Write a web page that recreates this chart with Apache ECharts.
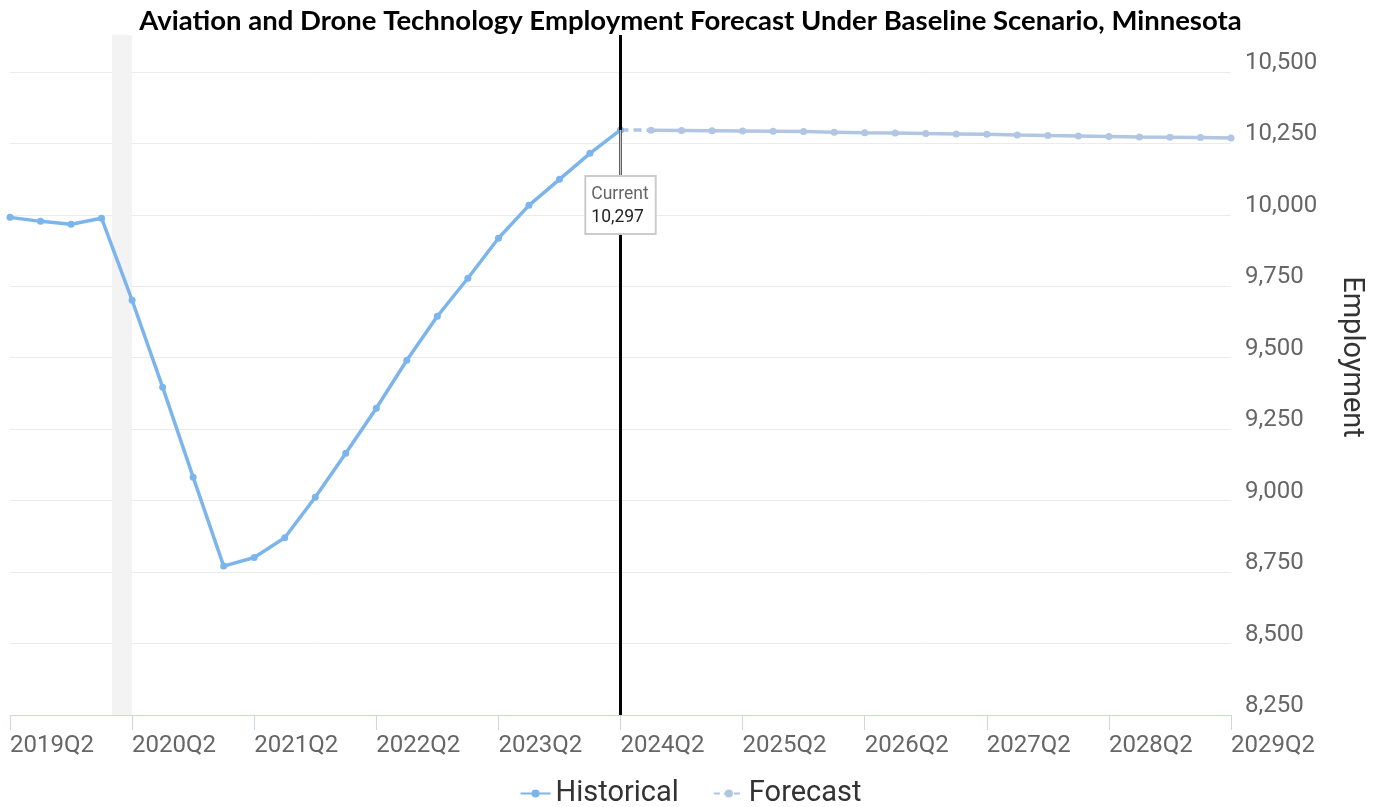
<!DOCTYPE html>
<html lang="en">
<head>
    <meta charset="UTF-8">
    <title>Aviation and Drone Technology Employment Forecast</title>
    <script src="https://cdn.jsdelivr.net/npm/echarts@6.0.0/dist/echarts.min.js"></script>
    <style>
        * { margin: 0; padding: 0; box-sizing: border-box; }
        body { background: #fff; }
        #chart { width: 1381px; height: 807px; }
    </style>
</head>
<body>
    <div id="chart"></div>

    <script>
        // quarter labels, index 0 = 2019Q2
        const quarters = [
            '2019Q2', '2019Q3', '2019Q4', '2020Q1', '2020Q2', '2020Q3', '2020Q4', '2021Q1',
            '2021Q2', '2021Q3', '2021Q4', '2022Q1', '2022Q2', '2022Q3', '2022Q4', '2023Q1',
            '2023Q2', '2023Q3', '2023Q4', '2024Q1', '2024Q2', '2024Q3', '2024Q4', '2025Q1',
            '2025Q2', '2025Q3', '2025Q4', '2026Q1', '2026Q2', '2026Q3', '2026Q4', '2027Q1',
            '2027Q2', '2027Q3', '2027Q4', '2028Q1', '2028Q2', '2028Q3', '2028Q4', '2029Q1',
            '2029Q2'
        ];

        // 2019Q2 .. 2024Q2
        const historical = [
            9991, 9977, 9967, 9988, 9701, 9397, 9082, 8771, 8801, 8870,
            9012, 9166, 9323, 9491, 9645, 9778, 9918, 10033, 10124, 10215,
            10297
        ];

        // 2024Q2 .. 2029Q2
        const forecast = [
            10297, 10296, 10295, 10294, 10293, 10292, 10291, 10289, 10287, 10286,
            10284, 10283, 10282, 10279, 10277, 10276, 10274, 10272, 10271, 10270,
            10269
        ];

        const currentIndex = historical.length - 1;
        const forecastStart = currentIndex;
        // recession band (Feb 2020 - Apr 2020) in quarter-index units
        const recessionBand = [3.34, 4];

        const histData = historical.map((v, i) => [i, v]);
        const foreData = forecast.map((v, i) => [forecastStart + i, v]);

        const histColor = '#7cb5ec';
        const foreColor = '#b0c6e2';

        const chart = echarts.init(document.getElementById('chart'));

        const option = {
            animation: false,
            title: {
                text: 'Aviation and Drone Technology Employment Forecast Under Baseline Scenario, Minnesota',
                left: 'center',
                top: 2,
                textStyle: {
                    fontFamily: 'Lato',
                    fontWeight: 'bold',
                    fontSize: 27.5,
                    color: '#000'
                }
            },
            grid: {
                left: 10,
                right: 150,
                top: 35,
                bottom: 92
            },
            legend: {
                top: 774,
                left: 'center',
                itemWidth: 30,
                itemHeight: 10,
                itemGap: 34,
                textStyle: { fontFamily: 'Roboto', fontSize: 29, color: '#333' },
                data: [
                    { name: 'Historical' },
                    { name: 'Forecast', itemStyle: { color: foreColor }, lineStyle: { type: [6, 4], color: foreColor } }
                ]
            },
            xAxis: {
                type: 'value',
                min: 0,
                max: quarters.length - 1,
                interval: 4,
                splitLine: { show: false },
                axisLine: { show: true, lineStyle: { color: '#ccd6eb', width: 1 } },
                axisTick: { show: true, length: 15, lineStyle: { color: '#ccd6eb' } },
                axisLabel: {
                    formatter: v => quarters[v] || '',
                    align: 'left',
                    margin: 19,
                    fontFamily: 'Roboto',
                    fontSize: 24,
                    color: '#666',
                    showMaxLabel: true
                }
            },
            yAxis: {
                type: 'value',
                position: 'right',
                min: 8250,
                max: 10629,
                interval: 250,
                name: 'Employment',
                nameLocation: 'middle',
                nameRotate: -90,
                nameGap: 106,
                nameTextStyle: {
                    fontFamily: 'Roboto',
                    fontSize: 29,
                    color: '#333',
                    padding: [0, 36, 0, 0]
                },
                axisLine: { show: false },
                axisTick: { show: false },
                splitLine: { showMaxLine: false, lineStyle: { color: '#ebebeb', width: 1 } },
                axisLabel: {
                    showMaxLabel: false,
                    margin: 14,
                    verticalAlign: 'bottom',
                    lineHeight: 18,
                    fontFamily: 'Roboto',
                    fontSize: 24,
                    color: '#666',
                    formatter: v => v.toLocaleString('en-US')
                }
            },
            series: [
                {
                    name: 'Historical',
                    type: 'line',
                    data: histData,
                    z: 3,
                    color: histColor,
                    lineStyle: { width: 3.5, color: histColor },
                    symbol: 'circle',
                    symbolSize: 7,
                    itemStyle: { color: histColor },
                    markArea: {
                        silent: true,
                        itemStyle: { color: '#f3f3f3' },
                        data: [[{ xAxis: recessionBand[0] }, { xAxis: recessionBand[1] }]]
                    },
                    markLine: {
                        silent: true,
                        symbol: 'none',
                        label: { show: false },
                        lineStyle: { color: '#000', width: 3, type: 'solid' },
                        data: [{ xAxis: currentIndex }]
                    },
                    markPoint: {
                        silent: true,
                        symbol: 'rect',
                        symbolSize: [2, 47],
                        symbolOffset: [0, '50%'],
                        itemStyle: { color: '#c4c4c4' },
                        label: {
                            show: true,
                            position: 'bottom',
                            distance: 0,
                            formatter: p => '{a|Current}\n{b|' + p.value.toLocaleString('en-US') + '}',
                            backgroundColor: '#fff',
                            borderColor: '#cccccc',
                            borderWidth: 2,
                            padding: [6, 6, 4, 5],
                            align: 'center',
                            rich: {
                                a: { fontFamily: 'Roboto', fontSize: 17.5, color: '#666', lineHeight: 23, align: 'left' },
                                b: { fontFamily: 'Roboto', fontSize: 17.5, color: '#222', lineHeight: 23, align: 'left' }
                            }
                        },
                        data: [{ coord: [currentIndex, historical[currentIndex]], value: historical[currentIndex] }]
                    }
                },
                {
                    name: 'Forecast',
                    type: 'line',
                    data: foreData.slice(0, 2),
                    z: 2,
                    color: foreColor,
                    lineStyle: { width: 3.5, color: foreColor, type: [8, 5] },
                    symbol: 'none'
                },
                {
                    name: 'Forecast',
                    type: 'line',
                    data: foreData.slice(1),
                    z: 2,
                    color: foreColor,
                    lineStyle: { width: 3.5, color: foreColor },
                    symbol: 'circle',
                    symbolSize: 7,
                    itemStyle: { color: foreColor }
                }
            ]
        };

        chart.setOption(option);

        window.addEventListener('resize', function () {
            chart.resize();
        });
    </script>
</body>
</html>
